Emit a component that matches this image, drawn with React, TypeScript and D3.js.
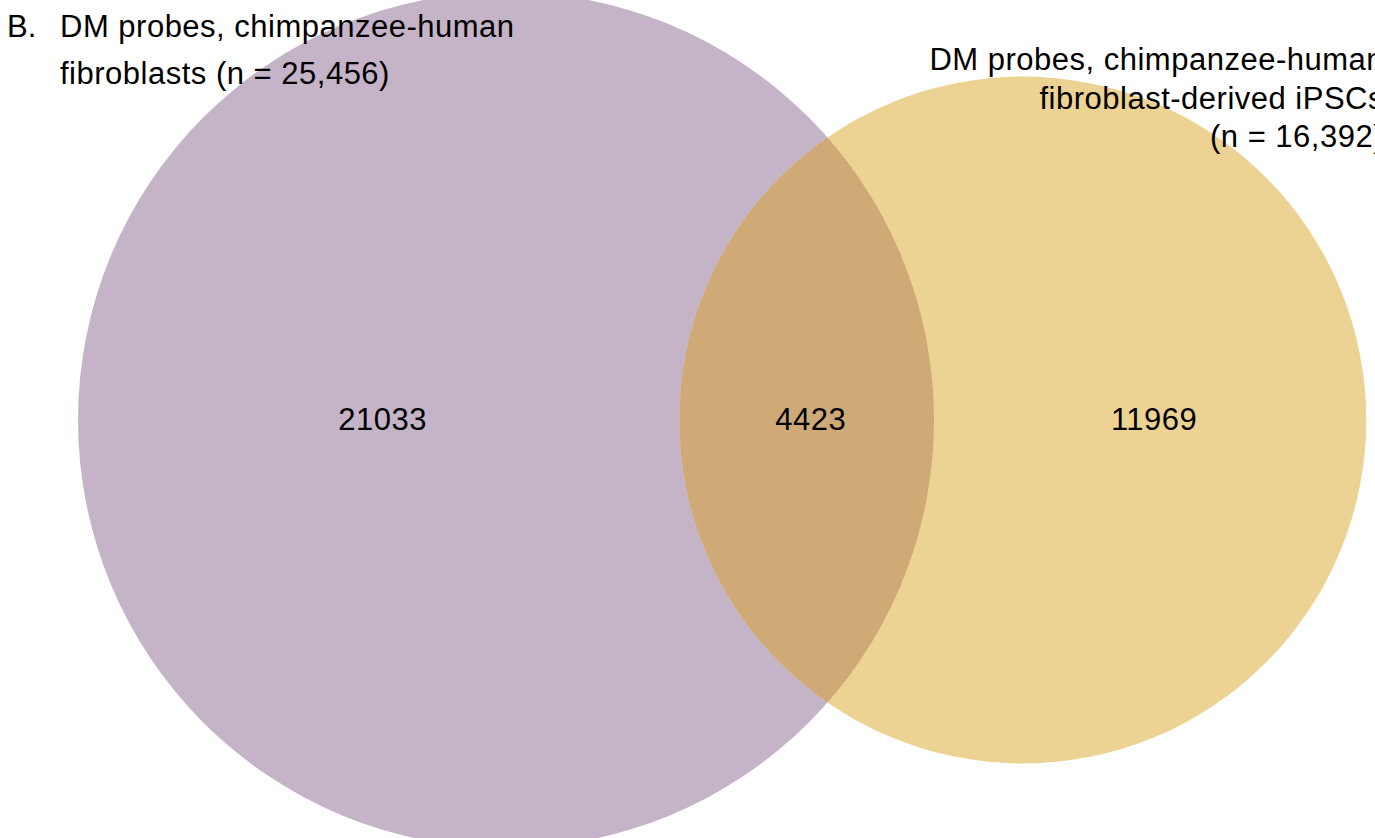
import React, { useEffect, useRef } from 'react';
import * as d3 from 'd3';

// set sizes and the region counts of the Venn diagram
const setNames = ['fibroblasts', 'iPSCs'];
const setTotals = [25456, 16392];
const regionCounts = [21033, 4423, 11969]; // left only, overlap, right only
const setColors = ['#c5b3c7', '#ecd393'];
const overlapColor = '#cfaa76';

const leftTitle = ['DM probes, chimpanzee-human', 'fibroblasts (n = 25,456)'];
const rightTitle = ['DM probes, chimpanzee-human', 'fibroblast-derived iPSCs', '(n = 16,392)'];

// area of the lens formed by two circles at distance d
function lensArea(r1: number, r2: number, d: number) {
    if (d >= r1 + r2) return 0;
    if (d <= Math.abs(r1 - r2)) return Math.PI * Math.min(r1, r2) ** 2;
    const a = (d * d + r1 * r1 - r2 * r2) / (2 * d);
    const b = d - a;
    const h = Math.sqrt(Math.max(0, r1 * r1 - a * a));
    return r1 * r1 * Math.acos(a / r1) - a * h + r2 * r2 * Math.acos(b / r2) - b * h;
}

export default function App() {
    const svgRef = useRef<SVGSVGElement>(null);

    useEffect(() => {
        if (!svgRef.current) return;
        const width = 1375;
        const height = 838;
        const font = '"Liberation Sans", Arial, Helvetica, sans-serif';
        const fontSize = '31px';
        const spacing = '0.5px';

        const svg = d3.select(svgRef.current);
        svg.selectAll('*').remove();

        const r = d3.scaleSqrt().domain([0, setTotals[0]]).range([0, 428]);
        const r1 = r(setTotals[0]);
        const r2 = r(setTotals[1]);

        // solve for the centre distance whose lens area matches the overlap count
        const target = Math.PI * r1 * r1 * (regionCounts[1] / setTotals[0]);
        let lo = Math.abs(r1 - r2), hi = r1 + r2;
        for (let i = 0; i < 60; i++) {
            const mid = (lo + hi) / 2;
            if (lensArea(r1, r2, mid) > target) lo = mid; else hi = mid;
        }
        const dist = (lo + hi) / 2;

        const cy = 420;
        const cx1 = 78 + r1;
        const cx2 = cx1 + dist;
        const circles = [
            { cx: cx1, r: r1, color: setColors[0], name: setNames[0] },
            { cx: cx2, r: r2, color: setColors[1], name: setNames[1] },
        ];

        const defs = svg.append('defs');
        defs.append('clipPath').attr('id', 'clip-left')
            .append('circle').attr('cx', cx1).attr('cy', cy).attr('r', r1);

        svg.selectAll('circle.set')
            .data(circles)
            .join('circle')
            .attr('class', 'set')
            .attr('cx', d => d.cx)
            .attr('cy', cy)
            .attr('r', d => d.r)
            .attr('fill', d => d.color);

        svg.append('circle')
            .attr('cx', cx2).attr('cy', cy).attr('r', r2)
            .attr('clip-path', 'url(#clip-left)')
            .attr('fill', overlapColor);

        // region labels at the middle of each region's horizontal span
        const xs = [cx1 - r1, cx2 - r2, cx1 + r1, cx2 + r2];
        const labelX = [(xs[0] + xs[1]) / 2, (xs[1] + xs[2]) / 2, (xs[2] + xs[3]) / 2];
        svg.selectAll('text.count')
            .data(regionCounts)
            .join('text')
            .attr('class', 'count')
            .attr('x', (_, i) => labelX[i] + 4)
            .attr('y', cy + 10)
            .attr('text-anchor', 'middle')
            .style('font-family', font)
            .style('font-size', fontSize)
            .style('letter-spacing', spacing)
            .attr('fill', '#000')
            .text(d => String(d));

        // titles
        svg.append('text')
            .attr('x', 7).attr('y', 37)
            .style('font-family', font).style('font-size', fontSize)
            .text('B.');

        svg.append('g').selectAll('text')
            .data(leftTitle)
            .join('text')
            .attr('x', 60)
            .attr('y', (_, i) => 37 + i * 47)
            .style('font-family', font).style('font-size', fontSize)
            .style('letter-spacing', spacing)
            .text(d => d);

        svg.append('g').selectAll('text')
            .data(rightTitle)
            .join('text')
            .attr('x', 1384)
            .attr('y', (_, i) => 70 + i * 38.5)
            .attr('text-anchor', 'end')
            .style('font-family', font).style('font-size', fontSize)
            .style('letter-spacing', spacing)
            .text(d => d);

        svg.attr('width', width).attr('height', height);
    }, []);

    return (
        <svg ref={svgRef} width={1375} height={838}
            style={{ position: 'absolute', left: 0, top: 0, background: '#fff' }} />
    );
}
